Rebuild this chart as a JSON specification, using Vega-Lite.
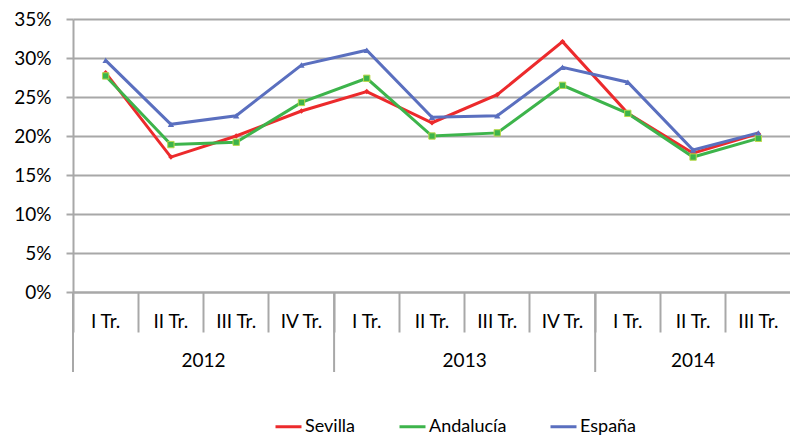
{
  "$schema": "https://vega.github.io/schema/vega-lite/v6.json",
  "width": 718,
  "height": 273,
  "padding": {"left": 13, "top": 10, "right": 0, "bottom": 0},
  "background": "white",
  "datasets": {
    "series": [
      {"period": "2012 I Tr.", "serie": "Sevilla", "valor": 0.281},
      {"period": "2012 II Tr.", "serie": "Sevilla", "valor": 0.173},
      {"period": "2012 III Tr.", "serie": "Sevilla", "valor": 0.200},
      {"period": "2012 IV Tr.", "serie": "Sevilla", "valor": 0.232},
      {"period": "2013 I Tr.", "serie": "Sevilla", "valor": 0.257},
      {"period": "2013 II Tr.", "serie": "Sevilla", "valor": 0.217},
      {"period": "2013 III Tr.", "serie": "Sevilla", "valor": 0.253},
      {"period": "2013 IV Tr.", "serie": "Sevilla", "valor": 0.321},
      {"period": "2014 I Tr.", "serie": "Sevilla", "valor": 0.229},
      {"period": "2014 II Tr.", "serie": "Sevilla", "valor": 0.178},
      {"period": "2014 III Tr.", "serie": "Sevilla", "valor": 0.203},
      {"period": "2012 I Tr.", "serie": "Andalucía", "valor": 0.277},
      {"period": "2012 II Tr.", "serie": "Andalucía", "valor": 0.189},
      {"period": "2012 III Tr.", "serie": "Andalucía", "valor": 0.192},
      {"period": "2012 IV Tr.", "serie": "Andalucía", "valor": 0.243},
      {"period": "2013 I Tr.", "serie": "Andalucía", "valor": 0.274},
      {"period": "2013 II Tr.", "serie": "Andalucía", "valor": 0.200},
      {"period": "2013 III Tr.", "serie": "Andalucía", "valor": 0.204},
      {"period": "2013 IV Tr.", "serie": "Andalucía", "valor": 0.265},
      {"period": "2014 I Tr.", "serie": "Andalucía", "valor": 0.229},
      {"period": "2014 II Tr.", "serie": "Andalucía", "valor": 0.173},
      {"period": "2014 III Tr.", "serie": "Andalucía", "valor": 0.197},
      {"period": "2012 I Tr.", "serie": "España", "valor": 0.297},
      {"period": "2012 II Tr.", "serie": "España", "valor": 0.215},
      {"period": "2012 III Tr.", "serie": "España", "valor": 0.226},
      {"period": "2012 IV Tr.", "serie": "España", "valor": 0.291},
      {"period": "2013 I Tr.", "serie": "España", "valor": 0.310},
      {"period": "2013 II Tr.", "serie": "España", "valor": 0.224},
      {"period": "2013 III Tr.", "serie": "España", "valor": 0.226},
      {"period": "2013 IV Tr.", "serie": "España", "valor": 0.288},
      {"period": "2014 I Tr.", "serie": "España", "valor": 0.269},
      {"period": "2014 II Tr.", "serie": "España", "valor": 0.182},
      {"period": "2014 III Tr.", "serie": "España", "valor": 0.204}
    ],
    "yearsA": [
      {"period": "2012 II Tr.", "year": "2012"},
      {"period": "2013 II Tr.", "year": "2013"}
    ],
    "yearsB": [
      {"period": "2014 II Tr.", "year": "2014"}
    ],
    "seps": [
      {"period": "2012 I Tr."},
      {"period": "2013 I Tr."},
      {"period": "2014 I Tr."}
    ]
  },
  "layer": [
    {
      "data": {"name": "series"},
      "encoding": {
        "x": {
          "field": "period", "type": "ordinal", "bandPosition": 0.5,
          "scale": {
            "type": "band", "paddingInner": 0, "paddingOuter": 0,
            "domain": ["2012 I Tr.", "2012 II Tr.", "2012 III Tr.", "2012 IV Tr.", "2013 I Tr.", "2013 II Tr.", "2013 III Tr.", "2013 IV Tr.", "2014 I Tr.", "2014 II Tr.", "2014 III Tr."]
          },
          "axis": {
            "title": null, "bandPosition": 0, "tickSize": 40,
            "labelExpr": "slice(datum.value, 5)", "labelAngle": 0, "labelBaseline": "middle",
            "labelPadding": -10.5, "labelOverlap": false, "labelFlush": false, "grid": false
          }
        },
        "y": {
          "field": "valor", "type": "quantitative",
          "scale": {"domain": [0, 0.35]},
          "axis": {
            "title": null, "values": [0, 0.05, 0.1, 0.15, 0.2, 0.25, 0.3, 0.35],
            "format": ".0%", "grid": true, "tickSize": 7, "labelPadding": 15
          }
        }
      },
      "layer": [
        {
          "mark": {"type": "line", "strokeWidth": 3},
          "encoding": {
            "color": {
              "field": "serie", "type": "nominal",
              "scale": {"domain": ["Sevilla", "Andalucía", "España"], "range": ["#EC2A2C", "#3DB44B", "#5A6FBF"]},
              "legend": {
                "title": null, "orient": "none", "legendX": 201, "legendY": 393, "direction": "horizontal",
                "symbolType": "stroke", "symbolStrokeWidth": 3, "symbolSize": 676,
                "labelFontSize": 18, "labelFont": "Lato", "labelColor": "#000000", "labelOffset": 2, "columnPadding": 37
              }
            }
          }
        },
        {
          "transform": [{"filter": "datum.serie === 'Sevilla'"}],
          "mark": {"type": "point", "shape": "diamond", "filled": true, "size": 30, "color": "#EC2A2C", "opacity": 1}
        },
        {
          "transform": [{"filter": "datum.serie === 'Andalucía'"}],
          "mark": {"type": "point", "shape": "square", "filled": true, "size": 40, "fill": "#3DB44B", "stroke": "#B9D94A", "strokeWidth": 1, "opacity": 1}
        },
        {
          "transform": [{"filter": "datum.serie === 'España'"}],
          "mark": {"type": "point", "shape": "triangle-up", "filled": true, "size": 40, "color": "#5A6FBF", "opacity": 1}
        }
      ]
    },
    {
      "data": {"name": "yearsA"},
      "mark": {"type": "text", "font": "Lato", "fontSize": 19, "color": "#000000", "baseline": "middle", "align": "center", "y": 342},
      "encoding": {
        "x": {"field": "period", "type": "ordinal", "bandPosition": 1},
        "text": {"field": "year", "type": "nominal"}
      }
    },
    {
      "data": {"name": "yearsB"},
      "mark": {"type": "text", "font": "Lato", "fontSize": 19, "color": "#000000", "baseline": "middle", "align": "center", "y": 342},
      "encoding": {
        "x": {"field": "period", "type": "ordinal", "bandPosition": 0.5},
        "text": {"field": "year", "type": "nominal"}
      }
    },
    {
      "data": {"name": "seps"},
      "mark": {"type": "rule", "color": "#A8A8A8", "strokeWidth": 2, "y": 273, "y2": 353},
      "encoding": {
        "x": {"field": "period", "type": "ordinal", "bandPosition": 0}
      }
    }
  ],
  "config": {
    "view": {"stroke": null},
    "axis": {
      "labelFont": "Lato", "labelFontSize": 19, "labelColor": "#000000",
      "domainColor": "#A8A8A8", "tickColor": "#A8A8A8", "gridColor": "#A8A8A8",
      "domainWidth": 2, "tickWidth": 2, "gridWidth": 2
    }
  }
}
